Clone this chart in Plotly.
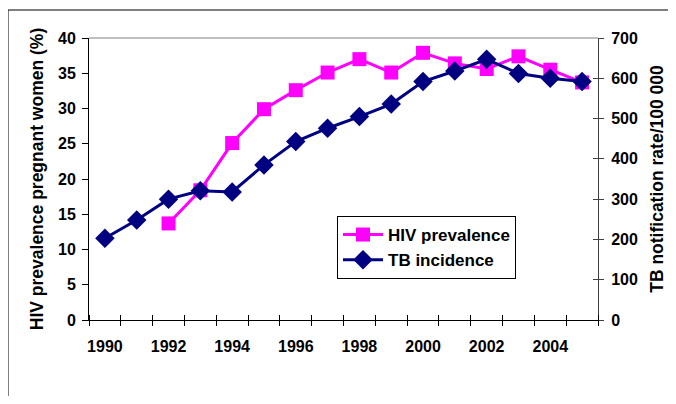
import plotly.graph_objects as go

years = list(range(1990, 2006))
hiv_prevalence = [None, None, 13.7, 18.4, 25.1, 29.9, 32.6, 35.1, 37.0, 35.1, 37.9, 36.4, 35.6, 37.4, 35.5, 33.7]
tb_incidence = [203, 248, 300, 321, 318, 385, 443, 476, 505, 536, 592, 618, 647, 612, 600, 592]
x_labels = [1990, 1992, 1994, 1996, 1998, 2000, 2002, 2004]

FONT = "Arial, Liberation Sans, sans-serif"

fig = go.Figure()
fig.add_trace(go.Scatter(
    x=years, y=hiv_prevalence, name="HIV prevalence", mode="lines+markers",
    line=dict(color="#FF00FF", width=3),
    marker=dict(symbol="square", size=14, color="#FF00FF"),
    connectgaps=False,
))
fig.add_trace(go.Scatter(
    x=years, y=tb_incidence, name="TB incidence", mode="lines+markers", yaxis="y2",
    line=dict(color="#000080", width=3),
    marker=dict(symbol="diamond", size=15, color="#000080"),
))

# page body has an 8px margin, so the figure is offset by 8px
W, H = 660, 388
L, R, T, B = 81, 70, 30, 76
pw, ph = W - L - R, H - T - B

fig.update_layout(
    width=W, height=H,
    margin=dict(l=L, r=R, t=T, b=B, autoexpand=False),
    paper_bgcolor="white", plot_bgcolor="white",
    font=dict(family=FONT, size=16, color="black", weight="bold"),
    showlegend=True,
    legend=dict(
        x=(329 - L) / pw, y=(312 - 208) / ph, xanchor="left", yanchor="top",
        bordercolor="black", borderwidth=1, bgcolor="white",
        font=dict(family=FONT, size=17, color="black", weight="bold"),
        itemwidth=40, tracegroupgap=0,
    ),
    xaxis=dict(
        range=[1989.5, 2005.5], tickmode="array", tickvals=x_labels,
        ticktext=[str(v) for v in x_labels], ticks="", showgrid=False,
        showline=True, linecolor="black", linewidth=1, zeroline=False,
        automargin=False, ticklabelstandoff=12,
        minor=dict(tickmode="linear", tick0=1989.5, dtick=1, ticks="outside",
                   ticklen=5, tickcolor="black", showgrid=False),
        tickfont=dict(family=FONT, size=16, weight="bold"),
    ),
    xaxis2=dict(
        overlaying="x", range=[1989.5, 2005.5], side="bottom", anchor="y",
        showticklabels=False, ticks="", showgrid=False, showline=False, zeroline=False,
        automargin=False,
        minor=dict(tickmode="linear", tick0=1989.5, dtick=1, ticks="inside",
                   ticklen=5, tickcolor="black", showgrid=False),
    ),
    yaxis=dict(
        range=[0, 40], dtick=5, ticks="outside", ticklen=6, tickcolor="black",
        showgrid=False, showline=True, linecolor="black", linewidth=1, zeroline=False,
        automargin=False, ticklabelstandoff=3,
        title=dict(text="HIV prevalence pregnant women (%)", standoff=9,
                   font=dict(family=FONT, size=17.5, weight="bold")),
        tickfont=dict(family=FONT, size=16, weight="bold"),
    ),
    yaxis2=dict(
        range=[0, 700], dtick=100, overlaying="y", side="right",
        ticks="outside", ticklen=5, tickcolor="#404040",
        showgrid=False, showline=True, linecolor="#404040", linewidth=1, zeroline=False,
        automargin=False, ticklabelstandoff=4,
        title=dict(text="TB notification rate/100 000", standoff=13,
                   font=dict(family=FONT, size=17.5, weight="bold")),
        tickfont=dict(family=FONT, size=16, weight="bold"),
    ),
    yaxis3=dict(
        range=[0, 700], dtick=100, overlaying="y", side="right", anchor="x",
        ticks="inside", ticklen=5, tickcolor="#404040", showticklabels=False,
        showgrid=False, showline=False, zeroline=False, automargin=False,
    ),
    shapes=[
        dict(type="line", xref="paper", yref="paper", x0=0, x1=1, y0=1, y1=1,
             line=dict(color="#808080", width=1)),
        dict(type="rect", xref="paper", yref="paper",
             x0=(0 - L) / pw, x1=(W + 20 - L) / pw,
             y0=(312 - (H + 20)) / ph, y1=1 + (T - 2) / ph,
             line=dict(color="black", width=1), fillcolor="rgba(0,0,0,0)", layer="below"),
    ],
)

# invisible helper traces so the extra tick axes are drawn
fig.add_trace(go.Scatter(x=[], y=[], xaxis="x2", yaxis="y", showlegend=False, hoverinfo="skip"))
fig.add_trace(go.Scatter(x=[], y=[], xaxis="x", yaxis="y3", showlegend=False, hoverinfo="skip"))

fig.write_html("out.html")
